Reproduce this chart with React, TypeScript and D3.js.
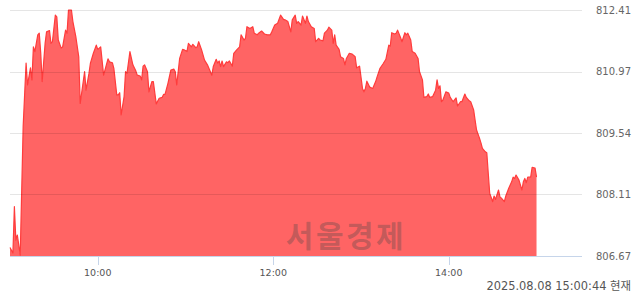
import React from 'react';
import * as d3 from 'd3';

// minutes after 09:00 open
const minutesSinceOpen = [
  0, 2, 3, 4, 5, 7, 9, 11, 12, 14, 15, 16, 17, 19, 20, 21, 22, 24, 25, 27,
  28, 29, 31, 32, 33, 35, 36, 38, 39, 40, 42, 43, 45, 47, 48, 51, 52, 54, 55, 57,
  59, 60, 61, 62, 64, 67, 68, 70, 71, 73, 74, 75, 76, 78, 79, 80, 82, 84, 86, 87,
  89, 90, 91, 92, 94, 95, 97, 98, 100, 102, 104, 105, 106, 108, 110, 112, 113, 114, 116, 118,
  119, 121, 122, 124, 125, 127, 128, 129, 131, 133, 135, 136, 138, 139, 141, 142, 143, 144, 145, 146,
  148, 149, 150, 152, 153, 155, 157, 158, 160, 161, 162, 164, 166, 167, 169, 170, 172, 174, 176, 178,
  179, 181, 183, 185, 187, 188, 190, 192, 193, 195, 196, 197, 199, 200, 202, 203, 204, 206, 208, 209,
  211, 212, 214, 215, 217, 218, 220, 221, 222, 223, 225, 226, 228, 229, 230, 232, 234, 236, 237, 239,
  241, 242, 243, 244, 246, 248, 250, 251, 253, 255, 257, 259, 260, 261, 263, 264, 265, 267, 268, 270,
  271, 272, 274, 275, 277, 279, 280, 282, 283, 285, 286, 287, 289, 291, 292, 293, 294, 295, 296, 298,
  300, 301, 303, 305, 306, 308, 309, 311, 312, 314, 315, 317, 318, 319, 321, 322, 323, 325, 326, 327,
  328, 330, 331, 332, 334, 335, 336, 338, 339, 341, 343, 344, 345, 346, 348, 350, 351, 352, 353, 354,
  356, 357, 359, 360,
];

const prices = [
  806.87, 806.74, 807.82, 807.04, 807.16, 806.69, 809.69, 811.17, 810.66, 811.06, 810.78, 811.55, 811.44, 811.83, 811.87, 811.41, 810.74, 811.63, 811.90, 811.93,
  811.63, 811.67, 812.29, 812.25, 811.71, 811.52, 811.55, 811.94, 811.87, 812.41, 812.41, 812.14, 811.79, 811.32, 810.23, 810.97, 810.54, 810.93, 811.17, 811.40,
  811.59, 811.49, 811.52, 811.55, 810.89, 811.27, 811.20, 811.18, 811.05, 810.43, 810.43, 810.48, 809.96, 810.39, 810.97, 810.93, 811.44, 811.13, 810.99, 810.89,
  810.87, 810.78, 811.10, 811.13, 810.97, 810.50, 810.74, 810.74, 810.22, 810.35, 810.37, 810.44, 810.44, 810.70, 811.01, 811.03, 810.97, 810.66, 811.28, 811.49,
  811.48, 811.44, 811.63, 811.55, 811.61, 811.53, 811.55, 811.67, 811.48, 811.24, 811.13, 811.05, 810.89, 811.09, 811.26, 811.17, 811.22, 811.09, 811.22, 811.09,
  811.20, 811.18, 811.22, 811.10, 811.40, 811.48, 811.55, 811.83, 811.71, 811.75, 812.02, 811.98, 812.02, 811.87, 811.83, 811.87, 811.92, 811.85, 811.83, 811.83,
  811.90, 812.06, 812.10, 812.29, 812.19, 812.18, 812.14, 811.90, 812.18, 812.29, 812.10, 812.14, 812.06, 812.27, 812.10, 812.27, 812.14, 812.02, 811.98, 811.67,
  811.75, 811.71, 811.69, 811.87, 811.94, 812.01, 811.94, 811.63, 811.83, 811.59, 811.49, 811.32, 811.28, 811.13, 811.28, 811.40, 811.38, 811.32, 811.06, 811.10,
  810.58, 810.50, 810.58, 810.75, 810.61, 810.58, 810.74, 810.85, 811.05, 811.15, 811.26, 811.59, 811.57, 811.88, 811.85, 811.87, 811.94, 811.77, 811.67, 811.88,
  811.83, 811.87, 811.71, 811.44, 811.40, 811.28, 810.97, 810.78, 810.37, 810.39, 810.45, 810.37, 810.39, 810.54, 810.78, 810.58, 810.64, 810.27, 810.31, 810.50,
  810.47, 810.37, 810.27, 810.36, 810.17, 810.27, 810.27, 810.45, 810.37, 810.29, 810.27, 810.08, 809.84, 809.61, 809.42, 809.31, 809.18, 809.10, 809.08, 808.60,
  808.13, 807.94, 808.07, 807.99, 808.21, 808.05, 808.02, 807.94, 808.07, 808.25, 808.40, 808.51, 808.48, 808.56, 808.44, 808.21, 808.40, 808.48, 808.38, 808.51,
  808.51, 808.74, 808.72, 808.51,
];

const yTicks = [806.67, 808.11, 809.54, 810.97, 812.41];
const xTickMinutes = [60, 180, 300];
const xTickLabels = ['10:00', '12:00', '14:00'];
const timestampLabel = '2025.08.08 15:00:44 현재';
const watermarkLabel = '서울경제';

const W = 640;
const H = 294;
const left = 10;
const plotRight = 580.4;
const gridRight = 582;
const top = 10;
const bottom = 256;

export default function App() {
  const x = d3.scaleLinear().domain([0, 390]).range([left, plotRight]);
  const y = d3.scaleLinear().domain([yTicks[0], yTicks[yTicks.length - 1]]).range([bottom, top]);
  const data = minutesSinceOpen.map((m, i) => ({ m, v: prices[i] }));
  const area = d3
    .area<{ m: number; v: number }>()
    .x((d) => x(d.m))
    .y0(bottom)
    .y1((d) => y(d.v));
  const line = d3
    .line<{ m: number; v: number }>()
    .x((d) => x(d.m))
    .y((d) => y(d.v));

  return (
    <svg
      width={W}
      height={H}
      style={{ position: 'absolute', left: 0, top: 0, background: '#fff' }}
    >
      <path d={area(data) || ''} fill="#ff6464" />
      <path d={line(data) || ''} fill="none" stroke="#ff3c3c" strokeWidth={1.2} strokeLinejoin="round" />
      {yTicks.slice(1).map((t) => (
        <line
          key={'g' + t}
          x1={left}
          x2={gridRight}
          y1={Math.round(y(t)) + 0.5}
          y2={Math.round(y(t)) + 0.5}
          stroke="#000"
          strokeOpacity={0.1}
        />
      ))}
      <text
        x={346}
        y={246.5}
        textAnchor="middle"
        fontFamily="'Noto Sans CJK KR', sans-serif"
        fontWeight="bold"
        fontSize={30}
        letterSpacing={2.5}
        fill="#444"
        fillOpacity={0.33}
      >
        {watermarkLabel}
      </text>
      <line x1={left} x2={gridRight} y1={bottom + 0.5} y2={bottom + 0.5} stroke="#c6d5ea" />
      {xTickMinutes.map((m, i) => (
        <g key={'x' + m}>
          <line x1={Math.round(x(m)) + 0.5} x2={Math.round(x(m)) + 0.5} y1={bottom} y2={bottom + 9} stroke="#c6d5ea" />
          <text
            x={x(m)}
            y={275.5}
            textAnchor="middle"
            fontFamily="'DejaVu Sans', sans-serif"
            fontSize={9.5}
            fill="#555"
          >
            {xTickLabels[i]}
          </text>
        </g>
      ))}
      {yTicks.map((t) => (
        <text
          key={'y' + t}
          x={596}
          y={y(t) + 3.6}
          fontFamily="'DejaVu Sans', sans-serif"
          fontSize={10}
          fill="#666"
        >
          {t.toFixed(2)}
        </text>
      ))}
      <text
        x={631}
        y={290}
        textAnchor="end"
        fontFamily="'DejaVu Sans', 'Noto Sans CJK KR', sans-serif"
        fontSize={11.4}
        fill="#555"
      >
        {timestampLabel}
      </text>
    </svg>
  );
}
